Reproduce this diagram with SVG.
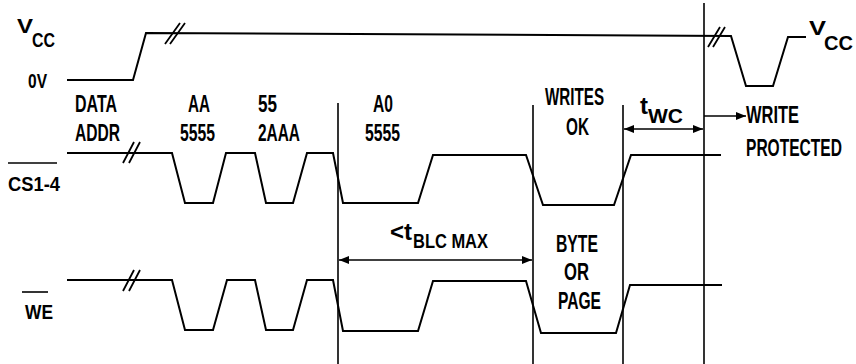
<svg xmlns="http://www.w3.org/2000/svg" width="856" height="364" viewBox="0 0 856 364">
<defs>
<style>
.w{fill:none;stroke:#000;stroke-width:2;stroke-linejoin:miter}
.v{fill:none;stroke:#000;stroke-width:1.6}
.b{fill:none;stroke:#000;stroke-width:1.8}
text{font-family:"Liberation Sans",Arial,sans-serif;font-weight:bold;fill:#000}
.l{font-size:24px}
.s{font-size:20px}
</style>
<marker id="ah" viewBox="0 0 10 8" refX="10" refY="4" markerWidth="10" markerHeight="8" markerUnits="userSpaceOnUse" orient="auto-start-reverse">
<path d="M0,0 L10,4 L0,8 Z" fill="#000"/>
</marker>
</defs>
<rect width="856" height="364" fill="#fff"/>
<g id="labels">
<text class="s" x="17" y="33" textLength="16" lengthAdjust="spacingAndGlyphs">V</text>
<text class="s" x="32" y="47" textLength="23" lengthAdjust="spacingAndGlyphs">CC</text>
<text class="s" x="28" y="88" textLength="19" lengthAdjust="spacingAndGlyphs">0V</text>
<text class="s" x="8" y="191" textLength="52" lengthAdjust="spacingAndGlyphs">CS1-4</text>
<line class="v" x1="8" y1="163" x2="57" y2="163"/>
<text class="s" x="25" y="319" textLength="28" lengthAdjust="spacingAndGlyphs">WE</text>
<line class="v" x1="22" y1="292" x2="48" y2="292"/>
<text class="s" x="809" y="35" textLength="17" lengthAdjust="spacingAndGlyphs">V</text>
<text class="s" x="824" y="50" textLength="29" lengthAdjust="spacingAndGlyphs">CC</text>
</g>
<g id="data-labels">
<text class="l" x="75" y="112" textLength="42" lengthAdjust="spacingAndGlyphs">DATA</text>
<text class="l" x="75" y="141" textLength="45" lengthAdjust="spacingAndGlyphs">ADDR</text>
<text class="l" x="188" y="112" textLength="22" lengthAdjust="spacingAndGlyphs">AA</text>
<text class="l" x="180" y="141" textLength="35" lengthAdjust="spacingAndGlyphs">5555</text>
<text class="l" x="258" y="112" textLength="19" lengthAdjust="spacingAndGlyphs">55</text>
<text class="l" x="258" y="141" textLength="42" lengthAdjust="spacingAndGlyphs">2AAA</text>
<text class="l" x="373" y="112" textLength="20" lengthAdjust="spacingAndGlyphs">A0</text>
<text class="l" x="365" y="141" textLength="35" lengthAdjust="spacingAndGlyphs">5555</text>
<text class="l" x="545" y="105" textLength="59" lengthAdjust="spacingAndGlyphs">WRITES</text>
<text class="l" x="566" y="135" textLength="23" lengthAdjust="spacingAndGlyphs">OK</text>
<text class="l" x="556" y="252" textLength="42" lengthAdjust="spacingAndGlyphs">BYTE</text>
<text class="l" x="564" y="280" textLength="25" lengthAdjust="spacingAndGlyphs">OR</text>
<text class="l" x="558" y="309" textLength="43" lengthAdjust="spacingAndGlyphs">PAGE</text>
<text class="l" x="746" y="123" textLength="53" lengthAdjust="spacingAndGlyphs">WRITE</text>
<text class="l" x="746" y="156" textLength="96" lengthAdjust="spacingAndGlyphs">PROTECTED</text>
</g>
<g id="timing-labels">
<text class="l" x="390" y="240" textLength="22" lengthAdjust="spacingAndGlyphs">&lt;t</text>
<text class="s" x="413" y="248" textLength="75" lengthAdjust="spacingAndGlyphs">BLC MAX</text>
<text class="l" x="640" y="114" textLength="8" lengthAdjust="spacingAndGlyphs">t</text>
<text class="s" x="648" y="123" textLength="35" lengthAdjust="spacingAndGlyphs">WC</text>
</g>
<g id="waveforms">
<polyline id="vcc" class="w" points="67,80 133,80 146,33 731,36 746,86 773,86 788,37 806,37"/>
<polyline id="cs" class="w" points="67,153 172,153 185,203 213,203 226,153 255,153 266,203 293,203 307,153 333,153 343,203 418,203 433,155 526,155 543,205 614,205 631,155 721,155"/>
<polyline id="we" class="w" points="67,280 172,280 185,330 213,330 227,280 255,280 266,330 293,330 307,280 333,280 343,331 418,331 433,281 526,281 541,333 616,333 630,285 722,285"/>
</g>
<g id="breaks">
<path class="b" d="M165,44 L180,23 M170,44 L185,23"/>
<path class="b" d="M708,47 L720,27 M713,47 L725,27"/>
<path class="b" d="M123,163 L134,142 M129,163 L140,142"/>
<path class="b" d="M123,291 L134,270 M129,291 L140,270"/>
</g>
<g id="connectors">
<line class="v" x1="338" y1="103" x2="338" y2="364"/>
<line class="v" x1="533" y1="105" x2="533" y2="364"/>
<line class="v" x1="623" y1="105" x2="623" y2="364"/>
<line class="v" x1="704" y1="3" x2="704" y2="364"/>
<line class="v" x1="339" y1="260" x2="532" y2="260" marker-start="url(#ah)" marker-end="url(#ah)"/>
<line class="v" x1="624" y1="129" x2="703" y2="129" marker-start="url(#ah)" marker-end="url(#ah)"/>
<line class="v" x1="704" y1="116" x2="746" y2="116" marker-end="url(#ah)"/>
</g>
</svg>
